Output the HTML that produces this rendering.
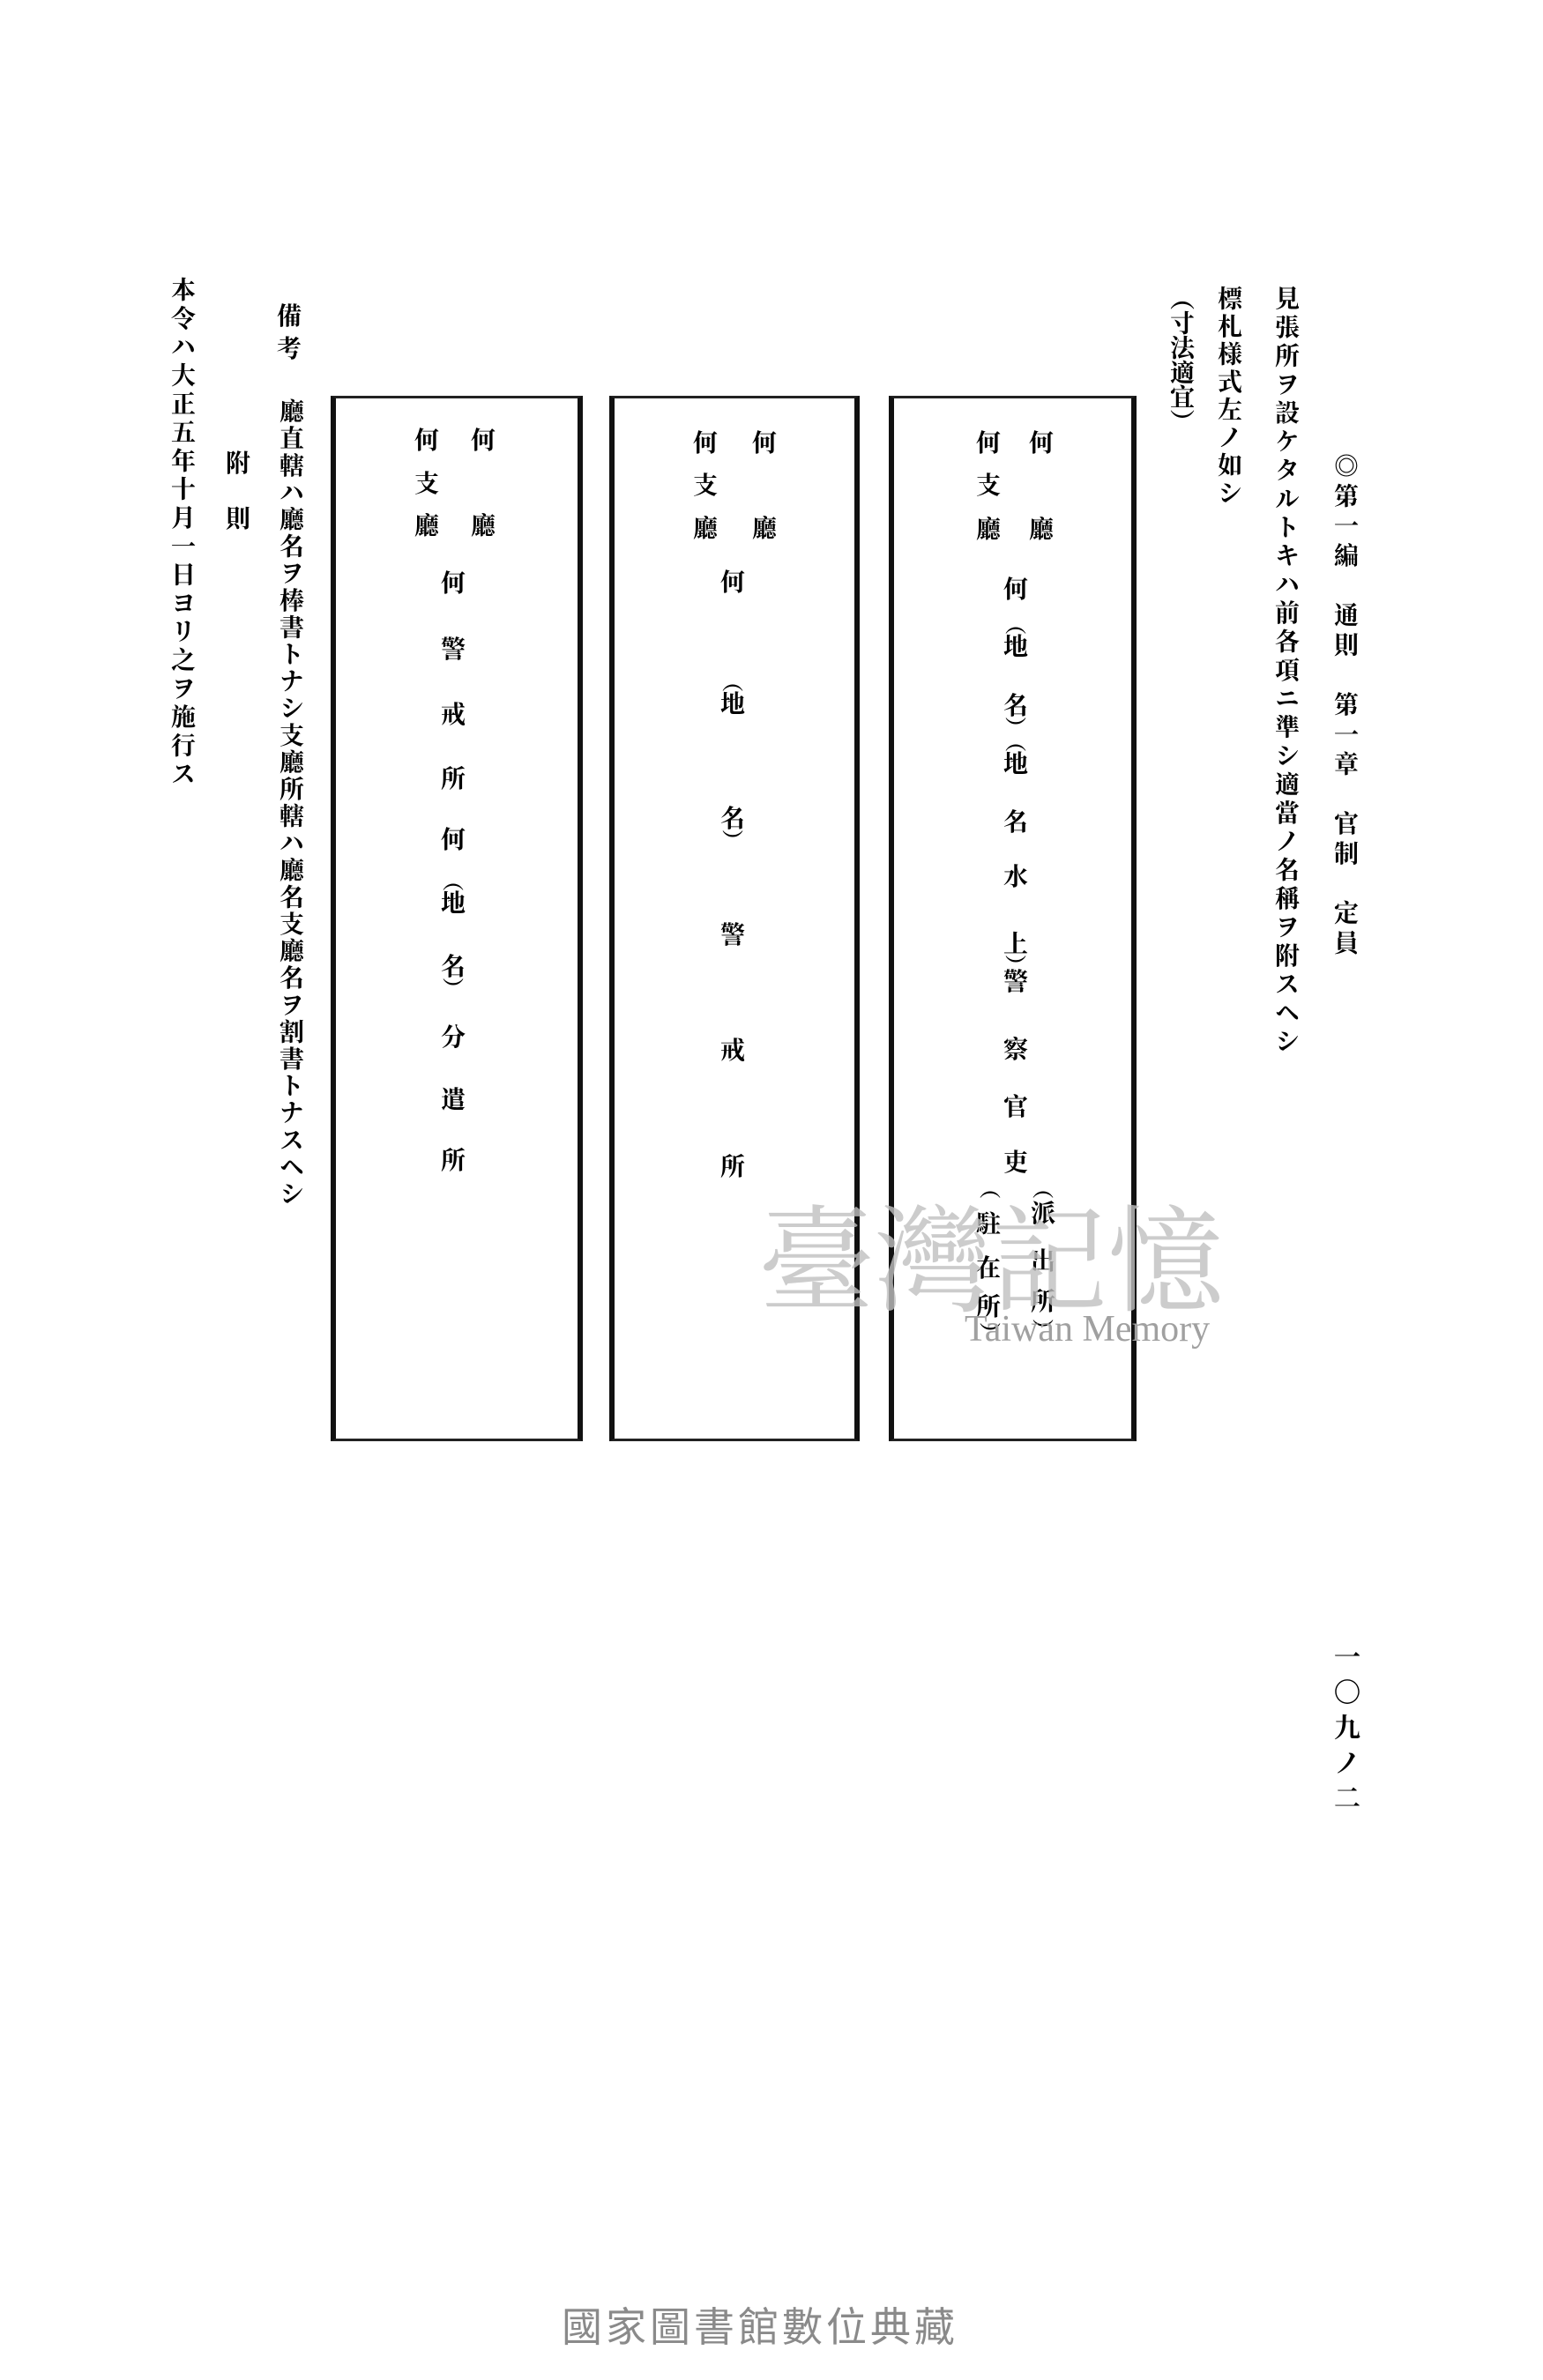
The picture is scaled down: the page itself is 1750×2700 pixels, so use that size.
<!DOCTYPE html>
<html><head><meta charset="utf-8">
<style>
html,body{margin:0;padding:0;background:#fff;}
#p{position:relative;width:1750px;height:2700px;overflow:hidden;background:#fff;font-family:"Liberation Serif","Noto Serif CJK SC","Noto Sans CJK JP",serif;color:#000;font-weight:700;}
.c{position:absolute;width:32px;margin-left:-16px;margin-top:-16px;text-align:center;font-size:28px;line-height:32px;}
.v{position:absolute;writing-mode:vertical-rl;font-size:28px;line-height:32px;width:32px;margin-left:-16px;margin-top:-16px;letter-spacing:3px;white-space:nowrap;}
.b{position:absolute;border-top:3px solid #222;border-bottom:3px solid #222;border-left:6px solid #111;border-right:6px solid #111;box-sizing:border-box;}
.p{position:absolute;width:32px;margin-left:-16px;text-align:center;font-size:24px;line-height:20px;}
</style></head><body><div id="p">

<!-- boxes -->
<div class="b" style="left:375px;top:449px;width:286px;height:1186px;"></div>
<div class="b" style="left:691px;top:449px;width:284px;height:1186px;"></div>
<div class="b" style="left:1008px;top:449px;width:281px;height:1186px;"></div>

<!-- header text -->
<div class="v" style="left:1524px;top:530px;letter-spacing:5.8px;">◎第一編　通則　第一章　官制　定員</div>
<div class="v" style="left:1457px;top:340px;letter-spacing:4.4px;">見張所ヲ設ケタルトキハ前各項ニ準シ適當ノ名稱ヲ附スヘシ</div>
<div class="v" style="left:1392px;top:340px;letter-spacing:3.5px;">標札様式左ノ如シ</div>
<div class="v" style="left:1338px;top:340px;letter-spacing:0px;">︵寸法適宜︶</div>
<div class="v" style="left:1524px;top:1880px;font-size:30px;letter-spacing:10px;">一〇九ノ二</div>

<!-- box 3 -->
<div class="c" style="left:1181px;top:504px;">何</div>
<div class="c" style="left:1181px;top:602px;">廳</div>
<div class="c" style="left:1121px;top:504px;">何</div>
<div class="c" style="left:1121px;top:552px;">支</div>
<div class="c" style="left:1121px;top:602px;">廳</div>
<div class="c" style="left:1152px;top:670px;">何</div>
<div class="p" style="left:1152px;top:700px;">︵</div>
<div class="c" style="left:1152px;top:735px;">地</div>
<div class="c" style="left:1152px;top:802px;">名</div>
<div class="p" style="left:1152px;top:817px;">︶</div>
<div class="p" style="left:1152px;top:833px;">︵</div>
<div class="c" style="left:1152px;top:868px;">地</div>
<div class="c" style="left:1152px;top:934px;">名</div>
<div class="c" style="left:1152px;top:996px;">水</div>
<div class="c" style="left:1152px;top:1072px;">上</div>
<div class="p" style="left:1152px;top:1087px;">︶</div>
<div class="c" style="left:1152px;top:1115px;">警</div>
<div class="c" style="left:1152px;top:1192px;">察</div>
<div class="c" style="left:1152px;top:1257px;">官</div>
<div class="c" style="left:1152px;top:1320px;">吏</div>
<div class="p" style="left:1183px;top:1340px;">︵</div>
<div class="p" style="left:1123px;top:1340px;">︵</div>
<div class="c" style="left:1183px;top:1378px;">派</div>
<div class="c" style="left:1183px;top:1432px;">出</div>
<div class="c" style="left:1183px;top:1478px;">所</div>
<div class="c" style="left:1121px;top:1390px;">駐</div>
<div class="c" style="left:1121px;top:1440px;">在</div>
<div class="c" style="left:1121px;top:1484px;">所</div>
<div class="p" style="left:1183px;top:1500px;">︶</div>
<div class="p" style="left:1123px;top:1504px;">︶</div>

<!-- box 2 -->
<div class="c" style="left:867px;top:504px;">何</div>
<div class="c" style="left:867px;top:601px;">廳</div>
<div class="c" style="left:800px;top:504px;">何</div>
<div class="c" style="left:800px;top:552px;">支</div>
<div class="c" style="left:800px;top:601px;">廳</div>
<div class="c" style="left:831px;top:662px;">何</div>
<div class="p" style="left:831px;top:765px;">︵</div>
<div class="c" style="left:831px;top:800px;">地</div>
<div class="c" style="left:831px;top:930px;">名</div>
<div class="p" style="left:831px;top:945px;">︶</div>
<div class="c" style="left:831px;top:1062px;">警</div>
<div class="c" style="left:831px;top:1193px;">戒</div>
<div class="c" style="left:831px;top:1325px;">所</div>

<!-- box 1 -->
<div class="c" style="left:548px;top:501px;">何</div>
<div class="c" style="left:548px;top:598px;">廳</div>
<div class="c" style="left:484px;top:501px;">何</div>
<div class="c" style="left:484px;top:550px;">支</div>
<div class="c" style="left:484px;top:598px;">廳</div>
<div class="c" style="left:514px;top:663px;">何</div>
<div class="c" style="left:514px;top:738px;">警</div>
<div class="c" style="left:514px;top:812px;">戒</div>
<div class="c" style="left:514px;top:885px;">所</div>
<div class="c" style="left:514px;top:954px;">何</div>
<div class="p" style="left:514px;top:991px;">︵</div>
<div class="c" style="left:514px;top:1026px;">地</div>
<div class="c" style="left:514px;top:1098px;">名</div>
<div class="p" style="left:514px;top:1113px;">︶</div>
<div class="c" style="left:514px;top:1178px;">分</div>
<div class="c" style="left:514px;top:1249px;">遣</div>
<div class="c" style="left:514px;top:1318px;">所</div>

<!-- left notes -->
<div class="c" style="left:328px;top:360px;">備</div>
<div class="c" style="left:328px;top:397px;">考</div>
<div class="v" style="left:328px;top:468px;letter-spacing:2.6px;">廳直轄ハ廳名ヲ棒書トナシ支廳所轄ハ廳名支廳名ヲ割書トナスヘシ</div>
<div class="c" style="left:270px;top:527px;">附</div>
<div class="c" style="left:270px;top:590px;">則</div>
<div class="v" style="left:205px;top:330px;letter-spacing:4.3px;">本令ハ大正五年十月一日ヨリ之ヲ施行ス</div>

<!-- watermark -->
<div style="position:absolute;left:860px;top:1340px;font-size:132px;line-height:160px;color:#c0c0c0;font-weight:400;font-family:'Noto Serif CJK SC',serif;opacity:0.8;white-space:nowrap;">臺灣記憶</div>
<div style="position:absolute;left:1094px;top:1484px;font-size:42px;line-height:48px;color:#a0a0a0;font-weight:400;font-family:'Liberation Serif',serif;white-space:nowrap;">Taiwan Memory</div>

<!-- footer -->
<div style="position:absolute;left:637px;top:2612px;font-size:46px;line-height:56px;color:#8a8a8a;font-weight:400;font-family:'Liberation Sans','Noto Sans CJK TC',sans-serif;letter-spacing:4px;white-space:nowrap;">國家圖書館數位典藏</div>

</div></body></html>
